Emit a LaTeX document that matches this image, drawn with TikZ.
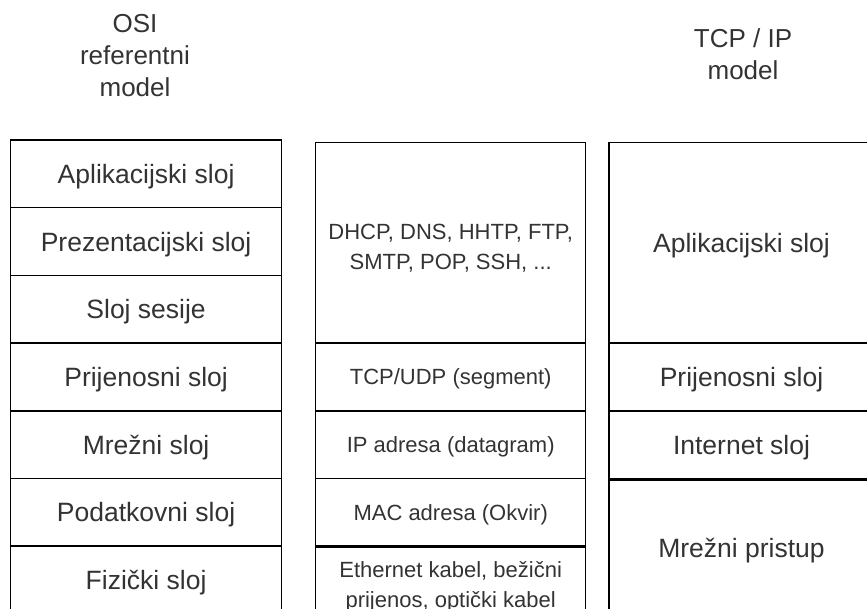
\documentclass[tikz,border=0pt]{standalone}
\usepackage{fontspec}
\setmainfont{Liberation Sans}
\definecolor{txt}{HTML}{333333}
\tikzset{
  layer/.style={draw=black, line width=1.5pt, rectangle, inner sep=0pt, outer sep=0pt,
    align=center, text=txt, font=\fontsize{26.5}{31.8}\selectfont,
    text height=19pt, text depth=0pt},
  proto/.style={layer, font=\fontsize{22}{30}\selectfont, text height=15.75pt},
  twoline/.style={text height=54pt, text depth=0pt},
  heading/.style={align=center, text=txt, inner sep=0pt, font=\fontsize{26}{32}\selectfont},
  divider/.style={draw=black, line width=3pt}
}
\begin{document}
\begin{tikzpicture}[x=1pt, y=-1pt]
  \useasboundingbox (0,0) rectangle (867,609);
  \clip (0,0) rectangle (867,609);

  % column headings
  \node[heading] (hosi) at (135,56) {OSI\\referentni\\model};
  \node[heading] (htcp) at (743,54) {TCP / IP\\model};

  % OSI reference model, seven layers
  \begin{scope}[every node/.append style={layer, minimum width=271.2pt, minimum height=67.7pt}]
    \node (osi1) at (146.1,173.85) {Aplikacijski sloj};
    \node (osi2) at (146.1,241.55) {Prezentacijski sloj};
    \node (osi3) at (146.1,309.25) {Sloj sesije};
    \node (osi4) at (146.1,376.95) {Prijenosni sloj};
    \node (osi5) at (146.1,444.65) {Mrežni sloj};
    \node (osi6) at (146.1,512.35) {Podatkovni sloj};
    \node (osi7) at (146.1,580.05) {Fizički sloj};
  \end{scope}

  % protocols and data units
  \begin{scope}[every node/.append style={proto, minimum width=270pt}]
    \node[minimum height=200.3pt, twoline] (p1) at (450.7,242.85) {DHCP, DNS, HHTP, FTP,\\SMTP, POP, SSH, ...};
    \node[minimum height=67.8pt] (p2) at (450.7,376.9) {TCP/UDP (segment)};
    \node[minimum height=67.7pt] (p3) at (450.7,444.65) {IP adresa (datagram)};
    \node[minimum height=68pt] (p4) at (450.7,512.5) {MAC adresa (Okvir)};
    \node[minimum height=68pt, twoline] (p5) at (450.7,580.5) {Ethernet kabel, bežični\\prijenos, optički kabel};
  \end{scope}

  % TCP/IP model, four layers
  \begin{scope}[every node/.append style={layer, minimum width=265pt}]
    \node[minimum height=200.3pt] (t1) at (741.5,242.85) {Aplikacijski sloj};
    \node[minimum height=67.8pt] (t2) at (741.5,376.9) {Prijenosni sloj};
    \node[minimum height=68.2pt] (t3) at (741.5,444.9) {Internet sloj};
    \node[minimum height=138pt] (t4) at (741.5,548) {Mrežni pristup};
  \end{scope}

  % heavier borders above the physical / network access layers
  \draw[divider] (p5.north west) -- (p5.north east);
  \draw[divider] (t4.north west) -- (t4.north east);
\end{tikzpicture}
\end{document}
